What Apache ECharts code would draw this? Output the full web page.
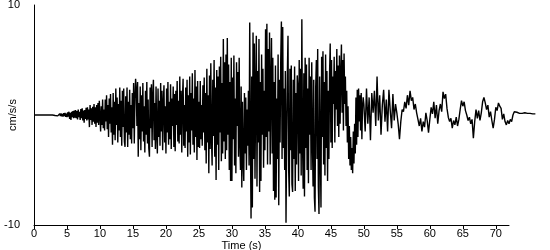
<!DOCTYPE html>
<html><head><meta charset="utf-8">
<script src="https://cdn.jsdelivr.net/npm/echarts@6/dist/echarts.min.js"></script>
<style>html,body{margin:0;padding:0;background:#fff}#c{width:550px;height:250px}</style>
</head><body><div id="c"></div>
<script>
// Acceleration record (cm/s/s).
const xAxisName = 'Time (s)';
const yAxisName = 'cm/s/s';
const xMin = 0, xMax = 72, xStep = 5;   // drawn axis
const recordEnd = 76;                   // record runs a little past the drawn axis
const yMin = -10, yMax = 10;

// 0.0 - 9.9 s, step 0.1 s
const seg0 = { t0: 0, dt: 0.1 };
const acc0 = [
0,0,0,0,0,0,0,0,0,0,
0,0,0,0,0,0,0,0,0,0,
0,0,0,0,0,0,0,0,0,0,
0,0.05,-0.05,0.08,-0.06,0.1,-0.08,0.05,-0.1,0.12,
-0.1,0.15,-0.12,0.1,-0.15,0.18,-0.1,0.2,-0.18,0.12,
-0.2,0.25,-0.15,0.3,-0.35,0.2,-0.45,0.28,-0.2,0.35,
-0.3,0.4,-0.25,0.45,-0.3,0.35,-0.4,0.5,-0.2,0.3,
-0.45,0.55,-0.3,0.6,-0.5,0.4,-0.7,0.45,-0.35,0.65,
-0.5,0.7,-0.4,0.5,-1.1,0.9,-0.45,0.6,-0.9,0.75,
-0.6,1.0,-0.8,0.7,-1.1,0.9,-0.7,1.1,-0.9,1.3
];
// 10.0 - 19.9 s
const seg1 = { t0: 10, dt: 0.1 };
const acc1 = [
1.2,-1.5,0.8,-0.9,1.4,-1.2,0.5,-1.4,1.4,-0.6,
1.8,-1.3,0.9,-2.0,1.5,-0.8,1.9,-1.6,0.7,-2.7,
2.0,-1.8,1.2,-2.3,2.4,-0.9,1.6,-2.5,1.0,-1.4,
2.5,-2.0,1.3,-2.8,2.2,-1.1,2.4,-2.4,-2.9,1.7,
-1.6,2.5,-2.9,1.2,-1.8,2.3,-2.2,0.9,-2.6,2.0,
-1.2,2.9,-2.6,1.5,3.3,2.3,-1.0,3.0,-3.8,1.1,
-2.2,2.6,-3.2,1.8,-1.5,2.9,-2.4,0.8,-3.4,2.2,
-1.8,3.0,-2.6,1.4,-3.0,-3.8,2.5,-1.2,2.8,-2.9,
1.6,3.2,-2.3,1.1,-3.1,2.6,-1.7,-3.5,2.4,-2.0,
1.3,-2.8,2.9,-1.5,2.2,-3.2,1.0,2.7,-2.5,0.8
];
// 20.0 - 29.9 s
const seg2 = { t0: 20, dt: 0.1 };
const acc2 = [
-3.5,2.4,-1.6,3.0,-2.7,1.2,-2.2,2.8,-3.1,1.5,
-1.0,2.6,-2.9,1.9,-3.3,2.2,-0.9,3.1,-2.4,1.3,
-2.6,3.5,-1.8,2.2,-3.4,1.4,3.3,-2.8,0.9,-3.0,
2.5,-1.5,3.2,-3.8,1.8,-2.5,3.5,-3.6,2.0,-1.4,
3.8,-2.7,1.5,-3.4,4.1,-2.0,2.6,-4.1,3.1,-2.9,
1.2,-3.0,3.1,-2.2,0.9,-2.8,2.7,-1.6,3.4,-3.2,
2.0,-4.4,4.2,-2.5,1.8,-5.3,3.6,-3.1,4.7,-2.0,
-4.6,3.2,-1.9,5.0,-3.8,2.5,-5.9,4.1,-2.7,3.5,
-5.0,4.4,-1.6,5.3,-4.2,2.9,-3.5,6.9,-2.4,4.8,
-4.0,5.5,-3.2,7.0,-1.8,4.6,-5.0,3.0,-6.0,5.2
];
// 30.0 - 39.9 s
const seg3 = { t0: 30, dt: 0.1 };
const acc3 = [
-6.0,3.4,-2.2,5.4,-4.6,1.5,-5.3,4.8,-1.0,3.9,
-3.8,5.2,-2.4,-5.0,2.6,-6.6,1.2,-4.2,-6.0,2.0,
-3.5,1.6,-5.0,0.5,-2.8,2.2,-4.6,8.4,-2.0,-9.4,
3.5,-8.4,7.5,-4.0,6.5,-5.8,2.0,7.2,-6.5,4.0,
-2.5,6.9,-7.0,3.0,-6.0,5.5,-1.8,4.2,-4.8,2.2,
-3.2,7.8,-2.0,8.3,-4.5,6.0,-1.5,7.5,-4.5,2.6,
7.0,-3.5,5.2,-6.9,3.0,-7.7,4.5,-7.5,1.5,-4.0,
5.5,-8.2,3.2,-2.5,5.0,8.5,-4.0,8.0,-3.0,2.4,
-5.0,4.0,-9.8,-2.0,3.5,7.2,-5.0,-7.4,4.2,-3.2,
4.5,-6.3,-7.0,3.2,-4.0,4.4,-6.9,2.0,-4.5,3.6
];
// 40.0 - 49.9 s
const seg4 = { t0: 40, dt: 0.1 };
const acc4 = [
2.5,-6.0,5.0,-3.5,4.2,-5.5,8.7,-2.5,-6.7,3.8,
-7.4,5.2,-3.0,4.6,-5.0,2.4,-6.2,5.2,-1.8,3.5,
-5.0,4.8,-2.2,-6.5,3.2,-7.5,-8.8,2.5,5.0,-4.0,
6.0,-6.5,-9.0,3.5,-3.0,-8.4,5.3,-2.0,5.8,-4.5,
3.0,-5.5,5.5,-3.0,4.0,-6.0,2.2,-4.0,3.8,6.5,
-2.5,5.0,-3.0,3.5,1.0,5.3,-2.5,4.0,0.5,6.0,
-1.0,4.5,-2.0,5.4,-0.8,3.6,6.4,0.2,5.0,-1.4,
5.6,1.0,3.5,-1.0,2.2,-2.5,0.8,-4.0,-1.0,-4.6,
-2.0,-5.0,-3.0,-5.3,-1.5,-4.4,-0.8,-3.5,1.6,-2.7,
2.3,-2.0,2.4,-0.6,1.8,-1.4,2.0,-2.2,0.8,1.6
];
// 50.0 - 76.0 s, step 0.2 s
const seg5 = { t0: 50, dt: 0.2 };
const acc5 = [
1.0,-1.5,2.4,-0.8,1.6,-2.3,2.0,0.2,2.2,-1.0,
3.5,-0.5,1.8,-1.8,0.9,2.3,-0.6,1.4,-1.5,2.3,
0.4,-1.2,1.9,-0.5,1.0,0.2,-0.8,-2.2,-0.6,0.5,
0.3,1.2,0.6,1.8,0.9,2.2,1.3,1.6,0.5,1.0,
0.2,-0.4,-1.0,-0.3,-1.5,-0.6,-1.1,0.2,-0.5,-1.6,
-0.4,0.7,0.1,1.2,-0.3,0.9,-0.8,0.4,1.0,0.3,
2.1,1.5,1.9,0.6,-0.2,-0.6,-0.3,-1.2,-0.5,-0.9,
-0.2,-1.0,-0.4,0.5,1.3,0.8,1.2,0.4,0.0,-0.5,
-0.2,-0.8,-0.4,-2.1,-0.6,0.5,-0.3,0.4,-0.5,0.2,
1.2,1.6,1.1,0.5,0.9,-0.2,0.3,-0.5,-1.2,-0.4,
0.7,0.4,1.1,0.8,0.6,-0.4,0.1,-0.6,-0.9,-0.5,
-0.8,-0.4,-0.6,0.0,0.3,0.15,0.25,0.2,0.15,0.2,
0.15,0.15,0.2,0.15,0.15,0.1,0.15,0.15,0.1,0.1,
0.1
];

const segments = [[seg0, acc0], [seg1, acc1], [seg2, acc2], [seg3, acc3], [seg4, acc4], [seg5, acc5]];
const points = [];
segments.forEach(([s, vals]) => {
  vals.forEach((v, i) => points.push([+(s.t0 + i * s.dt).toFixed(2), v]));
});

const FONT = 'Liberation Sans, Arial, sans-serif';
const W = 550, LEFT = 34, TOP = 5, BOTTOM = 25, RIGHT0 = 41;
const pxPerSec = (W - LEFT - RIGHT0) / (xMax - xMin);
const RIGHT1 = W - LEFT - pxPerSec * (recordEnd - xMin);

const chart = echarts.init(document.getElementById('c'), null, { renderer: 'canvas' });
chart.setOption({
  animation: false,
  backgroundColor: '#ffffff',
  grid: [
    { left: LEFT, right: RIGHT0, top: TOP, bottom: BOTTOM, containLabel: false, outerBoundsMode: 'none' },
    { left: LEFT, right: RIGHT1, top: TOP, bottom: BOTTOM, containLabel: false, outerBoundsMode: 'none' }
  ],
  xAxis: [{
    gridIndex: 0, type: 'value', min: xMin, max: xMax, interval: xStep,
    name: xAxisName, nameLocation: 'middle', nameGap: 15, nameMoveOverlap: false,
    nameTextStyle: { color: '#000', fontFamily: FONT, fontSize: 11, padding: [0, 60, 0, 0] },
    axisLine: { onZero: false, lineStyle: { color: '#000', width: 1 } },
    axisTick: { show: true, length: 4, lineStyle: { color: '#000' } },
    axisLabel: { color: '#000', fontFamily: FONT, fontSize: 11, margin: 3, showMaxLabel: false },
    splitLine: { show: false }
  }, {
    gridIndex: 1, type: 'value', min: xMin, max: recordEnd, show: false
  }],
  yAxis: [{
    gridIndex: 0, type: 'value', min: yMin, max: yMax, interval: 20,
    name: yAxisName, nameLocation: 'middle', nameGap: 16, nameRotate: 90, nameMoveOverlap: false,
    nameTextStyle: { color: '#000', fontFamily: FONT, fontSize: 11 },
    axisLine: { show: true, lineStyle: { color: '#000', width: 1 } },
    axisTick: { show: false },
    axisLabel: { color: '#000', fontFamily: FONT, fontSize: 11, margin: 14 },
    splitLine: { show: false }
  }, {
    gridIndex: 1, type: 'value', min: yMin, max: yMax, show: false
  }],
  series: [{
    type: 'line', xAxisIndex: 1, yAxisIndex: 1, data: points,
    showSymbol: false, symbol: 'none', sampling: null, clip: false,
    lineStyle: { color: '#000', width: 1.4 }
  }]
});
</script></body></html>
